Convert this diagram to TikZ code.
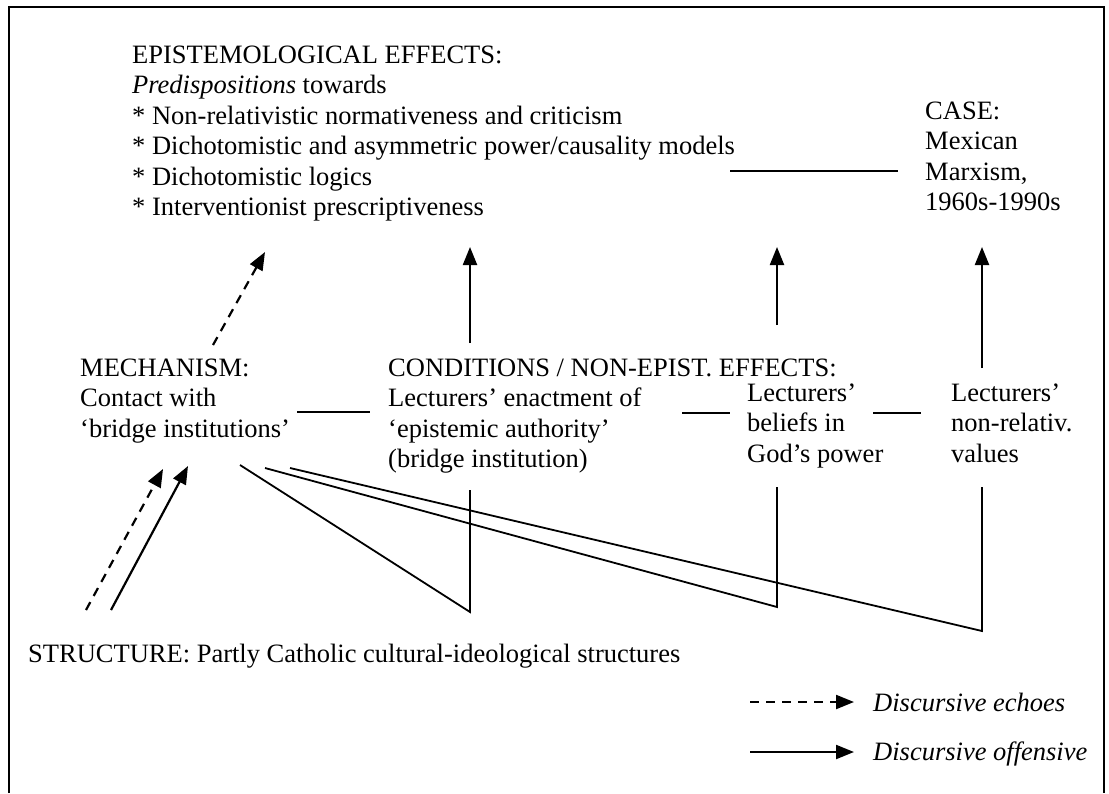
\documentclass[tikz,border=0pt]{standalone}
\usepackage{fontspec}
\setmainfont{Liberation Serif}
\usetikzlibrary{arrows.meta}
\newcommand{\blk}[1]{\begin{tabular}[t]{@{}l@{}}#1\end{tabular}}
\begin{document}
\begin{tikzpicture}[x=1pt,y=-1pt,
  txt/.style={anchor=base west,inner sep=0pt,font=\fontsize{26.5}{30.5}\selectfont},
  conn/.style={line width=1.8pt},
  arr/.style={line width=2.2pt,-{Triangle[length=18pt,width=14pt]}},
  darr/.style={arr,dash pattern=on 9pt off 7pt},
  frame/.style={line width=1.6pt}]
\useasboundingbox (0,0) rectangle (1109,793);
\draw[frame] (9,793) -- (9,7) -- (1104,7) -- (1104,793);
% text blocks
\node[txt] (epi) at (132,63) {\blk{EPISTEMOLOGICAL EFFECTS:\\ \textit{Predispositions} towards\\ {*} Non-relativistic normativeness and criticism\\ {*} Dichotomistic and asymmetric power/causality models\\ {*} Dichotomistic logics\\ {*} Interventionist prescriptiveness}};
\node[txt] (case) at (925,119) {\blk{CASE:\\ Mexican\\ Marxism,\\ 1960s-1990s}};
\node[txt] (mech) at (80,376) {\blk{MECHANISM:\\ Contact with\\ `bridge institutions'}};
\node[txt] (cond) at (388,376) {\blk{CONDITIONS / NON-EPIST. EFFECTS:\\ Lecturers' enactment of\\ `epistemic authority'\\ (bridge institution)}};
\node[txt] (bel) at (747,401) {\blk{Lecturers'\\ beliefs in\\ God's power}};
\node[txt] (val) at (951,401) {\blk{Lecturers'\\ non-relativ.\\ values}};
\node[txt] (struct) at (28,662) {STRUCTURE: Partly Catholic cultural-ideological structures};
\node[txt] (leg1) at (873,711) {\textit{Discursive echoes}};
\node[txt] (leg2) at (873,760) {\textit{Discursive offensive}};
% coordinates
\coordinate (h1a) at (297,412); \coordinate (h1b) at (370,412);
\coordinate (h2a) at (682,413); \coordinate (h2b) at (730,413);
\coordinate (h3a) at (873,413); \coordinate (h3b) at (921,413);
\coordinate (h4a) at (730,171); \coordinate (h4b) at (898,171);
\coordinate (m1) at (240,465); \coordinate (m2) at (265,468); \coordinate (m3) at (290,468);
\coordinate (v1b) at (470,612); \coordinate (v1t) at (470,490);
\coordinate (v2b) at (777,607); \coordinate (v2t) at (777,487);
\coordinate (v3b) at (982,631); \coordinate (v3t) at (982,487);
\coordinate (d0s) at (213,345); \coordinate (d0e) at (265,252);
\coordinate (a1s) at (470,343); \coordinate (a1e) at (470,247);
\coordinate (a2s) at (777,325); \coordinate (a2e) at (777,247);
\coordinate (a3s) at (982,368); \coordinate (a3e) at (982,247);
\coordinate (sds) at (86,610); \coordinate (sde) at (163,469);
\coordinate (sss) at (111,610); \coordinate (sse) at (188,466);
\coordinate (l1s) at (750,702); \coordinate (l1e) at (854,702);
\coordinate (l2s) at (750,752); \coordinate (l2e) at (854,752);
% connectors
\draw[conn] (h1a) -- (h1b);
\draw[conn] (h2a) -- (h2b);
\draw[conn] (h3a) -- (h3b);
\draw[conn] (h4a) -- (h4b);
\draw[conn] (m1) -- (v1b) -- (v1t);
\draw[conn] (m2) -- (v2b) -- (v2t);
\draw[conn] (m3) -- (v3b) -- (v3t);
\draw[darr] (d0s) -- (d0e);
\draw[arr] (a1s) -- (a1e);
\draw[arr] (a2s) -- (a2e);
\draw[arr] (a3s) -- (a3e);
\draw[darr] (sds) -- (sde);
\draw[arr] (sss) -- (sse);
\draw[darr] (l1s) -- (l1e);
\draw[arr] (l2s) -- (l2e);
\end{tikzpicture}
\end{document}
